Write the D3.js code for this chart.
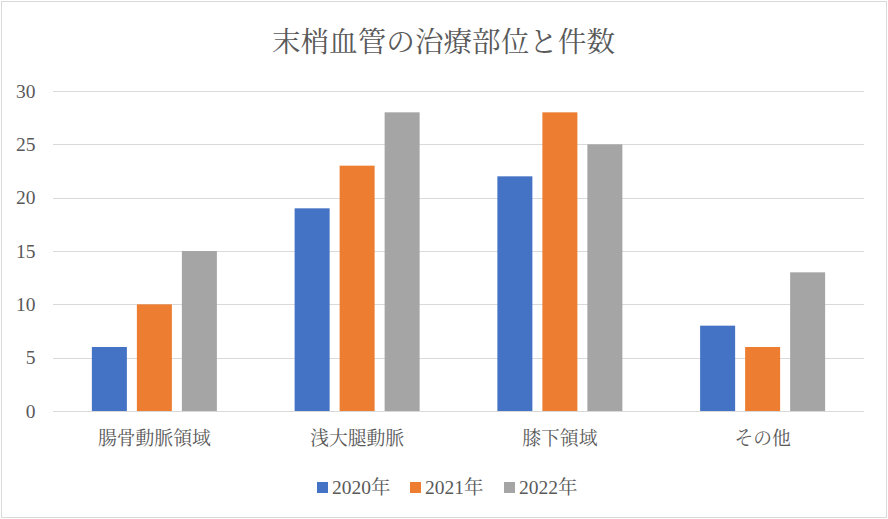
<!DOCTYPE html>
<html><head><meta charset="utf-8">
<script src="https://cdn.jsdelivr.net/npm/d3@7"></script>
<style>body{margin:0;background:#fff;}svg{display:block;}</style>
</head><body>
<script>
const title = "末梢血管の治療部位と件数";
const categories = ["腸骨動脈領域","浅大腿動脈","膝下領域","その他"];
const seriesNames = ["2020年","2021年","2022年"];
const s2020 = [6,19,22,8];
const s2021 = [10,23,28,6];
const s2022 = [15,28,25,13];
const yTicks = [0,5,10,15,20,25,30];
const colors = ["#4472C4","#ED7D31","#A5A5A5"];
const seriesValues = [s2020,s2021,s2022];

(function(){
const W=888,H=519;
const font = "Liberation Serif, DejaVu Serif, Noto Serif CJK JP, Noto Sans CJK JP, serif";
const svg = d3.select("body").append("svg").attr("width",W).attr("height",H);
svg.append("rect").attr("x",1.5).attr("y",1.5).attr("width",W-3).attr("height",H-3)
  .attr("fill","#fff").attr("stroke","#d9d9d9").attr("stroke-width",1);

const pL=53,pR=864,pT=91,pB=411;
const x0 = d3.scaleBand().domain(categories).range([pL,pR]);
const x1 = d3.scaleBand().domain(seriesNames).range([0,125]).paddingInner(10/45).paddingOuter(0);
const y = d3.scaleLinear().domain([0,30]).range([pB,pT]);

svg.append("text").attr("x",W/2-0.5).attr("y",42).attr("dy","0.35em").attr("text-anchor","middle")
  .style("font-family",font).style("font-size","28.6px").attr("fill","#595959").text(title);

const grid = svg.append("g");
grid.selectAll("line").data(yTicks).join("line")
  .attr("x1",pL).attr("x2",pR).attr("y1",d=>Math.round(y(d))+0.5).attr("y2",d=>Math.round(y(d))+0.5)
  .attr("stroke","#d9d9d9").attr("stroke-width",1);

const yAxis = d3.axisLeft(y).tickValues(yTicks).tickSize(0).tickPadding(0);
const ya = svg.append("g").attr("transform",`translate(${35.5},0)`).call(yAxis);
ya.attr("font-family",null).attr("font-size",null);
ya.select(".domain").remove();
ya.selectAll("text").style("font-family",font).style("font-size","19.5px").attr("fill","#595959");

const off = (x0.bandwidth()-125)/2;
const groups = svg.append("g").selectAll("g").data(categories).join("g")
  .attr("transform",c=>`translate(${x0(c)+off},0)`);
groups.selectAll("rect").data((c,i)=>seriesNames.map((s,j)=>({s,v:seriesValues[j][i],j})))
  .join("rect")
  .attr("x",d=>x1(d.s)).attr("width",x1.bandwidth())
  .attr("y",d=>y(d.v)).attr("height",d=>y(0)-y(d.v))
  .attr("fill",d=>colors[d.j]);

svg.append("line").attr("x1",pL).attr("x2",pR).attr("y1",Math.round(y(0))+0.5).attr("y2",Math.round(y(0))+0.5)
  .attr("stroke","#d9d9d9");

const xAxis = d3.axisBottom(x0).tickSize(0).tickPadding(0);
const xa = svg.append("g").attr("transform",`translate(0,${438})`).call(xAxis);
xa.attr("font-family",null).attr("font-size",null);
xa.select(".domain").remove();
xa.selectAll("text").attr("dy","0.35em").style("font-family",font).style("font-size","18.8px").attr("fill","#595959");

const legX = [317,410,504];
const leg = svg.append("g").selectAll("g").data(seriesNames).join("g")
  .attr("transform",(d,i)=>`translate(${legX[i]},0)`);
leg.append("rect").attr("x",0).attr("y",482).attr("width",11).attr("height",11).attr("fill",(d,i)=>colors[i]);
leg.append("text").attr("x",15).attr("y",487).attr("dy","0.35em").style("font-family",font).style("font-size","19.5px").attr("fill","#595959").text(d=>d);
})();
</script>
</body></html>
